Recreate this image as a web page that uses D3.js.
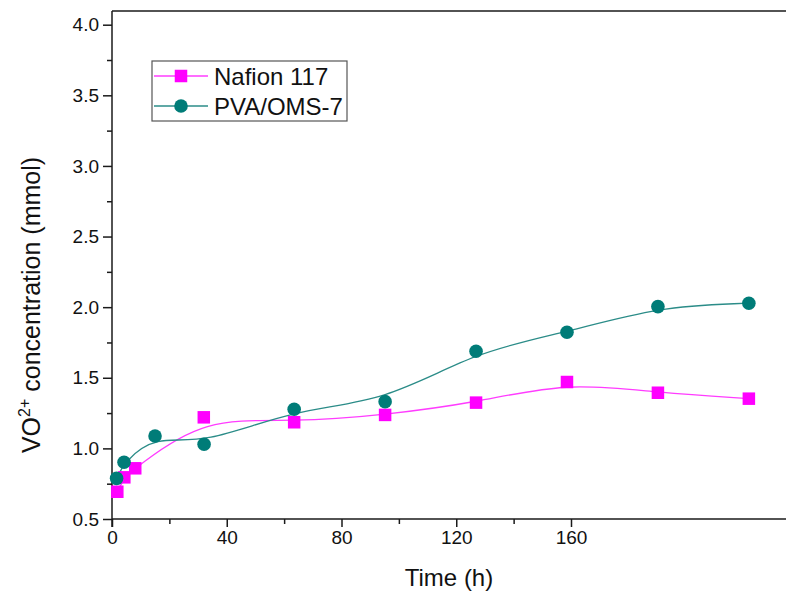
<!DOCTYPE html>
<html><head><meta charset="utf-8">
<script src="https://cdn.jsdelivr.net/npm/d3@7"></script>
<style>body{margin:0;background:#fff}svg{display:block}text{font-family:"Liberation Sans",Arial,sans-serif}</style>
</head><body><svg id="c" width="786" height="592"></svg>
<script>
// Values, in the units of the drawn axes
const nafionTime = [1.85, 4.3, 8.1, 32.0, 63.5, 95.2, 126.9, 158.6, 190.3, 222.0];
const nafionConc = [0.693, 0.795, 0.859, 1.220, 1.185, 1.237, 1.324, 1.470, 1.394, 1.352];
const pvaTime = [1.6, 4.2, 15.0, 32.1, 63.5, 95.2, 126.9, 158.6, 190.3, 222.0];
const pvaConc = [0.788, 0.902, 1.088, 1.029, 1.277, 1.331, 1.688, 1.822, 2.004, 2.028];
const xTicks = [0, 40, 80, 120, 160];
const xMinor = [20, 60, 100, 140];
const yTicks = [0.5, 1.0, 1.5, 2.0, 2.5, 3.0, 3.5, 4.0];
const yMinor = [0.75, 1.25, 1.75, 2.25, 2.75, 3.25, 3.75];
const seriesNames = ["Nafion 117", "PVA/OMS-7"];

const svg = d3.select("#c");
const L = 112, R = 792, T = 11, B = 519;
const x = d3.scaleLinear().domain([0, 160]).range([L, 571]);
const y = d3.scaleLinear().domain([0.5, 4.0]).range([B, 24.7]);
const axisCol = "#1a1a1a";
const font = '"Liberation Sans",Arial,sans-serif';

// frame top/right
svg.append("line").attr("x1", L).attr("x2", R).attr("y1", T).attr("y2", T).attr("stroke", axisCol).attr("stroke-width", 1.5);
svg.append("line").attr("x1", R).attr("x2", R).attr("y1", T).attr("y2", B).attr("stroke", axisCol).attr("stroke-width", 1.5);

// x axis
const gx = svg.append("g").attr("transform", `translate(0,${B})`)
  .call(d3.axisBottom(x).tickValues(xTicks).tickFormat(d3.format("d")).tickSize(8).tickPadding(4));
gx.select(".domain").remove();
gx.append("line").attr("x1", L).attr("x2", R).attr("stroke", axisCol).attr("stroke-width", 1.5);
gx.selectAll(".tick line").attr("stroke", axisCol).attr("stroke-width", 1.5);
gx.selectAll(".tick text").attr("font-size", 19).attr("fill", "#111").style("font-family", font);
const gxm = svg.append("g").attr("transform", `translate(0,${B})`)
  .call(d3.axisBottom(x).tickValues(xMinor).tickFormat("").tickSize(5));
gxm.select(".domain").remove();
gxm.selectAll(".tick line").attr("stroke", axisCol).attr("stroke-width", 1.5);

// y axis
const gy = svg.append("g").attr("transform", `translate(${L},0)`)
  .call(d3.axisLeft(y).tickValues(yTicks).tickFormat(d3.format(".1f")).tickSize(9).tickPadding(4));
gy.select(".domain").remove();
gy.append("line").attr("y1", T).attr("y2", B + 8).attr("stroke", axisCol).attr("stroke-width", 1.5);
gy.selectAll(".tick line").attr("stroke", axisCol).attr("stroke-width", 1.5);
gy.selectAll(".tick text").attr("font-size", 19).attr("fill", "#111").style("font-family", font);
const gym = svg.append("g").attr("transform", `translate(${L},0)`)
  .call(d3.axisLeft(y).tickValues(yMinor).tickFormat("").tickSize(5));
gym.select(".domain").remove();
gym.selectAll(".tick line").attr("stroke", axisCol).attr("stroke-width", 1.5);

// titles
svg.append("text").attr("x", 449).attr("y", 586).attr("text-anchor", "middle")
  .attr("font-size", 24).attr("fill", "#111").text("Time (h)");
const yt = svg.append("text").attr("transform", "translate(40,305) rotate(-90)")
  .attr("text-anchor", "middle").attr("font-size", 25).attr("fill", "#111");
yt.append("tspan").text("VO");
yt.append("tspan").attr("dy", -10).attr("font-size", 16).text("2+");
yt.append("tspan").attr("dy", 10).text(" concentration (mmol)");

// series
const magLine = "#ff3cff", magMark = "#ff00ff";
const tealLine = "#2b8c88", tealMark = "#007c78";
const line = d3.line().x(d => x(d[0])).y(d => y(d[1])).curve(d3.curveBasis);
const nafion = nafionTime.map((t, i) => [t, nafionConc[i]]);
const pva = pvaTime.map((t, i) => [t, pvaConc[i]]);

svg.append("path").datum(nafion).attr("d", line).attr("fill", "none").attr("stroke", magLine).attr("stroke-width", 1.3);
svg.append("path").datum(pva).attr("d", line).attr("fill", "none").attr("stroke", tealLine).attr("stroke-width", 1.3);

const sq = 12.5;
svg.append("g").selectAll("rect").data(nafion).join("rect")
  .attr("x", d => x(d[0]) - sq / 2).attr("y", d => y(d[1]) - sq / 2)
  .attr("width", sq).attr("height", sq).attr("fill", magMark);
svg.append("g").selectAll("circle").data(pva).join("circle")
  .attr("cx", d => x(d[0])).attr("cy", d => y(d[1])).attr("r", 6.8).attr("fill", tealMark);

// legend
const lg = svg.append("g");
lg.append("rect").attr("x", 152).attr("y", 61).attr("width", 195).attr("height", 60)
  .attr("fill", "#fff").attr("stroke", "#555").attr("stroke-width", 1.2);
const ly = [76, 106];
lg.append("line").attr("x1", 154).attr("x2", 208).attr("y1", ly[0]).attr("y2", ly[0]).attr("stroke", magLine).attr("stroke-width", 1.3);
lg.append("rect").attr("x", 181 - sq / 2).attr("y", ly[0] - sq / 2).attr("width", sq).attr("height", sq).attr("fill", magMark);
lg.append("line").attr("x1", 154).attr("x2", 208).attr("y1", ly[1]).attr("y2", ly[1]).attr("stroke", tealLine).attr("stroke-width", 1.3);
lg.append("circle").attr("cx", 181).attr("cy", ly[1]).attr("r", 6.8).attr("fill", tealMark);
lg.selectAll("text.l").data(seriesNames).join("text").attr("class", "l")
  .attr("x", 214).attr("y", (d, i) => ly[i] + 8.5).attr("font-size", 24).attr("fill", "#111").text(d => d);
</script></body></html>
